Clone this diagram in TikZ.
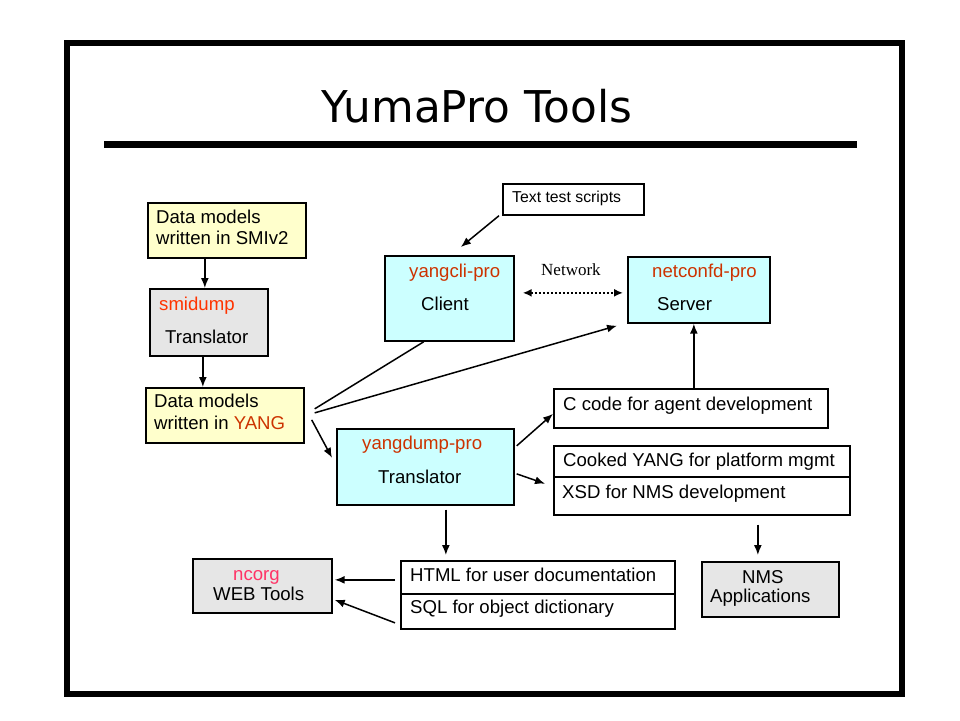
\documentclass[tikz,border=0pt]{standalone}
\usepackage{fontspec}
\setmainfont{Liberation Sans}
\newfontfamily\titlefont{DejaVu Sans}
\newfontfamily\netfont{Liberation Serif}
\usetikzlibrary{arrows.meta}
\definecolor{boxyellow}{HTML}{FFFFCC}
\definecolor{boxcyan}{HTML}{CCFFFF}
\definecolor{boxgray}{HTML}{E6E6E6}
\definecolor{toolred}{HTML}{CC3300}
\definecolor{smired}{HTML}{FF3300}
\definecolor{ncpink}{HTML}{FF3366}
\begin{document}
\begin{tikzpicture}[x=1pt,y=-1pt,
  box/.style={draw=black, line width=1.7pt, anchor=north west, inner sep=0pt, rectangle},
  lbl/.style={anchor=base west, inner sep=0pt, font=\fontsize{18.6}{22}\selectfont},
  arr/.style={line width=1.5pt, -{Latex[length=10pt,width=8pt]}},
  con/.style={line width=1.5pt}]
\useasboundingbox (0,0) rectangle (960,720);
\fill[white] (0,0) rectangle (960,720);
\draw[line width=6pt] (66.5,43) rectangle (901.5,693.5);
\node[anchor=base, inner sep=0pt, font=\titlefont\fontsize{43.8}{50}\selectfont] (title) at (477,122) {YumaPro Tools};
\draw[line width=6.5pt] (104,144.5) -- (857,144.5);

% boxes
\node[box, fill=boxyellow, minimum width=158pt, minimum height=55pt] (smi) at (147,202) {};
\node[box, fill=boxgray, minimum width=118pt, minimum height=67pt] (smd) at (149,288) {};
\node[box, fill=boxyellow, minimum width=158pt, minimum height=55pt] (yang) at (145,387) {};
\node[box, fill=boxcyan, minimum width=129pt, minimum height=85pt] (cli) at (384,255) {};
\node[box, fill=boxcyan, minimum width=142pt, minimum height=66pt] (srv) at (627,256) {};
\node[box, fill=boxcyan, minimum width=177pt, minimum height=76pt] (ydp) at (336,428) {};
\node[box, fill=white, minimum width=141pt, minimum height=31pt] (tts) at (502,183) {};
\node[box, fill=white, minimum width=274pt, minimum height=39pt] (cc) at (553,388) {};
\node[box, fill=white, minimum width=296pt, minimum height=31pt] (ck) at (553,445) {};
\node[box, fill=white, minimum width=296pt, minimum height=38pt] (xsd) at (553,476) {};
\node[box, fill=white, minimum width=274pt, minimum height=33pt] (html) at (400,560) {};
\node[box, fill=white, minimum width=274pt, minimum height=35pt] (sql) at (400,593) {};
\node[box, fill=boxgray, minimum width=139pt, minimum height=54pt] (web) at (192,558) {};
\node[box, fill=boxgray, minimum width=137pt, minimum height=55pt] (nms) at (701,561) {};

% texts
\node[lbl] (smiA) at (156,223) {Data models};
\node[lbl] (smiB) at (156,244) {written in SMIv2};
\node[lbl, text=smired] (smdA) at (159,310) {smidump};
\node[lbl] (smdB) at (165,343) {Translator};
\node[lbl] (yangA) at (154,407) {Data models};
\node[lbl] (yangB) at (154,429) {written in \textcolor{toolred}{YANG}};
\node[lbl, text=toolred] (cliA) at (409,277) {yangcli-pro};
\node[lbl] (cliB) at (421,310) {Client};
\node[lbl, text=toolred] (srvA) at (652,277) {netconfd-pro};
\node[lbl] (srvB) at (657,310) {Server};
\node[lbl, text=toolred] (ydpA) at (362,449) {yangdump-pro};
\node[lbl] (ydpB) at (378,483) {Translator};
\node[anchor=base west, inner sep=0pt, font=\netfont\fontsize{17}{20}\selectfont] (net) at (541,275) {Network};
\node[anchor=base west, inner sep=0pt, font=\fontsize{15.8}{19}\selectfont] (ttsA) at (512,202) {Text test scripts};
\node[lbl] (ccA) at (563,410) {C code for agent development};
\node[lbl] (ckA) at (563,466) {Cooked YANG for platform mgmt};
\node[lbl] (xsdA) at (562,498) {XSD for NMS development};
\node[lbl] (htmlA) at (410,581) {HTML for user documentation};
\node[lbl] (sqlA) at (410,613) {SQL for object dictionary};
\node[lbl, text=ncpink] (webA) at (233,580) {ncorg};
\node[lbl] (webB) at (213,600) {WEB Tools};
\node[lbl] (nmsA) at (742,583) {NMS};
\node[lbl] (nmsB) at (710,602) {Applications};

% connectors
\draw[arr] ([xshift=-22pt]smi.south) -- ([xshift=-22pt]smi.south |- smd.north);
\draw[arr] ([xshift=-6pt]smd.south) -- ([xshift=-6pt]smd.south |- yang.north);
\draw[arr] ([xshift=-3pt]tts.south west) -- ([xshift=11.5pt,yshift=8pt]cli.north);
\draw[con] ([xshift=-25.5pt]cli.south) -- ([xshift=10pt,yshift=6.5pt]yang.east);
\draw[arr] ([xshift=10pt,yshift=2.5pt]yang.east) -- ([xshift=-10pt,yshift=-2pt]srv.south west);
\draw[arr] ([xshift=7pt,yshift=-4.5pt]yang.east) -- ([xshift=-4pt,yshift=9pt]ydp.west);
\draw[arr] ([xshift=2pt,yshift=21pt]ydp.east) -- ([yshift=-5.5pt]cc.west);
\draw[arr] ([xshift=2pt,yshift=-7pt]ydp.east) -- ([xshift=-8pt,yshift=-6pt]ck.south west);
\draw[arr] ([xshift=3pt]cc.north) -- ([xshift=3pt]cc.north |- srv.south);
\draw[arr, shorten <=4pt, shorten >=5pt] ([xshift=20.5pt]ydp.south) -- ([xshift=20.5pt]ydp.south |- html.north);
\draw[arr, shorten <=9pt, shorten >=6pt] ([xshift=-12.5pt]nms.north |- xsd.south) -- ([xshift=-12.5pt]nms.north);
\draw[arr] ([xshift=-5pt,yshift=-2.5pt]html.west) -- ([xshift=2pt,yshift=6pt]web.east);
\draw[arr] ([xshift=-5pt,yshift=-11.5pt]sql.west) -- ([xshift=2pt,yshift=-14pt]web.east);
\draw[line width=1.7pt, dash pattern=on 2pt off 2pt, {Latex[length=9pt,width=8pt]}-{Latex[length=9pt,width=8pt]}]
  ([xshift=8pt,yshift=5.5pt]cli.east) -- ([xshift=-4pt,yshift=-3pt]srv.west);
\end{tikzpicture}
\end{document}
